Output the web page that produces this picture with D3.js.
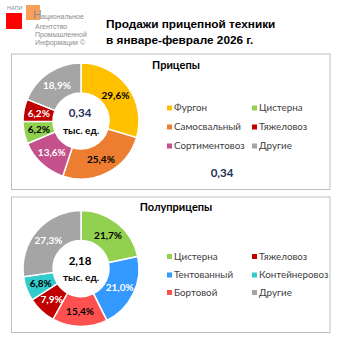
<!DOCTYPE html>
<html><head><meta charset="utf-8">
<script src="https://cdn.jsdelivr.net/npm/d3@7"></script>
<style>html,body{margin:0;padding:0;background:#fff}</style>
</head><body><svg id="c" width="338" height="338"></svg>
<script>
const trailerCats = ["Фургон","Самосвальный","Сортиментовоз","Цистерна","Тяжеловоз","Другие"];
const trailerValues = [29.6,25.4,13.6,6.2,6.2,18.9];
const trailerColors = ["#FFC000","#ED7D31","#C4508C","#92D050","#C00000","#A5A5A5"];
const trailerLabelColors = ["#000","#000","#fff","#000","#fff","#fff"];
const trailerLegend = ["Фургон","Цистерна","Самосвальный","Тяжеловоз","Сортиментовоз","Другие"];
const trailerTotal = 0.34;

const semiCats = ["Цистерна","Тентованный","Бортовой","Тяжеловоз","Контейнеровоз","Другие"];
const semiValues = [21.7,21.0,15.4,7.9,6.8,27.3];
const semiColors = ["#92D050","#3399FF","#FF5050","#C00000","#33CCCC","#A5A5A5"];
const semiLabelColors = ["#000","#fff","#000","#fff","#000","#fff"];
const semiLegend = ["Цистерна","Тяжеловоз","Тентованный","Контейнеровоз","Бортовой","Другие"];
const semiTotal = 2.18;

const titleLines = ["Продажи прицепной техники","в январе-феврале 2026 г."];
const logoLines = ["ациональное","Агентство","Промышленной","Информации ©"];

const loc = d3.formatLocale({decimal:",",thousands:" ",grouping:[3],currency:["",""]});
const fPct = v => loc.format(".1f")(v) + "%";
const fTot = loc.format(".2f");

const svg = d3.select("#c");
const cal = "Lato, 'Open Sans', sans-serif";
const ari = "'Liberation Sans', Arial, sans-serif";
const narrow = "'Liberation Sans Narrow','Liberation Sans',sans-serif";

// logo
svg.append("text").attr("x",7).attr("y",10).attr("font-family",ari).attr("font-size",5.5).attr("fill","#7f8fa6").text("НАПИ");
svg.append("rect").attr("x",6).attr("y",13).attr("width",16).attr("height",16).attr("fill","#FF0000");
svg.append("rect").attr("x",26).attr("y",5).attr("width",14).attr("height",15).attr("fill","#F79646").attr("opacity",0.9);
svg.append("text").attr("x",33).attr("y",19).attr("font-family",narrow).attr("font-size",12).attr("fill","#8c8c8c").text("Н");
logoLines.forEach((t,i)=>{
  svg.append("text").attr("x", i===0?41:35).attr("y", i===0?19:20.5+i*8).attr("font-family",narrow)
    .attr("font-size",7).attr("fill","#8c8c8c").text(t);
});

// title
titleLines.forEach((t,i)=>{
  svg.append("text").attr("x",106).attr("y",28+i*16).attr("font-family",ari).attr("font-weight","bold")
    .attr("font-size",11.8).attr("fill","#000").text(t);
});

function panel(y0, y1, title, titleY, cats, values, colors, labelColors, legend, total, cy, legendRows, totalColor, extraTotal){
  svg.append("rect").attr("x",11.5).attr("y",y0+0.5).attr("width",318.5).attr("height",y1-y0)
    .attr("fill","#fff").attr("stroke","#BFBFBF").attr("stroke-width",1);
  svg.append("text").attr("x",176).attr("y",titleY).attr("text-anchor","middle").attr("font-family",cal)
    .attr("font-weight","bold").attr("font-size",11).attr("fill","#000").text(title);
  const cx = 81, R = 58, r = 28;
  const pie = d3.pie().sort(null).value(d=>d);
  const arcs = pie(values);
  const arc = d3.arc().innerRadius(r).outerRadius(R);
  const g = svg.append("g").attr("transform",`translate(${cx},${cy})`);
  g.selectAll("path").data(arcs).join("path").attr("d",arc).attr("fill",(d,i)=>colors[i])
    .attr("stroke","#fff").attr("stroke-width",1.5);
  const lab = d3.arc().innerRadius(r).outerRadius(R);
  g.selectAll("text.l").data(arcs).join("text").attr("class","l")
    .attr("transform",d=>`translate(${lab.centroid(d)})`).attr("text-anchor","middle").attr("dy","0.35em")
    .attr("font-family",cal).attr("font-weight","bold").attr("font-size",10)
    .attr("fill",(d,i)=>labelColors[i]).text(d=>fPct(d.data));
  g.append("text").attr("x",-1).attr("y",-8).attr("text-anchor","middle").attr("dy","0.35em")
    .attr("font-family",cal).attr("font-weight","bold").attr("font-size",11.5).attr("fill",totalColor).text(fTot(total));
  g.append("text").attr("x",0).attr("y",9).attr("text-anchor","middle").attr("dy","0.35em")
    .attr("font-family",cal).attr("font-weight","bold").attr("font-size",10).attr("fill","#000").text("тыс. ед.");
  legend.forEach((name,i)=>{
    const col = i%2, row = Math.floor(i/2);
    const x = col===0?167:252, y = legendRows[row];
    const ci = cats.indexOf(name);
    svg.append("rect").attr("x",x).attr("y",y-2.5).attr("width",5).attr("height",5).attr("fill",colors[ci]);
    svg.append("text").attr("x",x+7).attr("y",y).attr("dy","0.35em").attr("font-family",cal)
      .attr("font-size",9.8).attr("fill","#404040").text(name);
  });
  if(extraTotal){
    svg.append("text").attr("x",222).attr("y",173).attr("dy","0.35em").attr("text-anchor","middle")
      .attr("font-family",cal).attr("font-weight","bold").attr("font-size",11.5).attr("fill",totalColor).text(fTot(total));
  }
}

panel(53.5, 189, "Прицепы", 69, trailerCats, trailerValues, trailerColors, trailerLabelColors, trailerLegend, trailerTotal, 121, [108,127,146], "#1F2F55", true);
panel(196.5, 332, "Полуприцепы", 211, semiCats, semiValues, semiColors, semiLabelColors, semiLegend, semiTotal, 268.5, [256.5,275,292.5], "#000", false);
</script></body></html>
